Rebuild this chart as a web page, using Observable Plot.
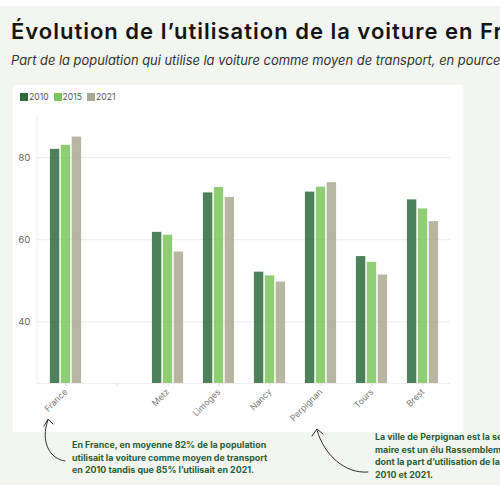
<!DOCTYPE html>
<html><head><meta charset="utf-8">
<script src="https://cdn.jsdelivr.net/npm/d3@7"></script>
<script src="https://cdn.jsdelivr.net/npm/@observablehq/plot@0.6"></script>
<style>
html,body{margin:0;padding:0;width:500px;height:500px;overflow:hidden;background:#fff;font-family:Inter,"DejaVu Sans",sans-serif;}
#page{position:absolute;left:0;top:6px;width:500px;height:479px;background:#f3f5f0;}
#title{position:absolute;left:11px;top:18px;font-size:22px;letter-spacing:1px;line-height:27px;font-weight:600;color:#151515;white-space:nowrap;}
#subtitle{position:absolute;left:11px;top:53px;font-size:12.9px;line-height:15px;font-style:italic;color:#333;white-space:nowrap;}
#card{position:absolute;left:13px;top:85px;width:450px;height:347px;background:#fff;}
#legend{position:absolute;left:20px;top:92px;display:flex;gap:5px;font-size:8.6px;color:#555;line-height:10px;}
#legend span{display:flex;align-items:center;gap:1px;}
#legend i{display:inline-block;width:8px;height:8px;}
#chart{position:absolute;left:13px;top:105px;}
.note{position:absolute;font-size:8.9px;line-height:12.5px;font-weight:700;color:#2d5e3a;white-space:nowrap;}
#arrows{position:absolute;left:0;top:0;pointer-events:none;}
</style></head>
<body>
<div id="page"></div>
<div id="title">Évolution de l’utilisation de la voiture en France</div>
<div id="subtitle">Part de la population qui utilise la voiture comme moyen de transport, en pourcentage</div>
<div id="card"></div>
<div id="legend"></div>
<div id="chart"></div>
<div class="note" style="left:72px;top:439px">En France, en moyenne 82% de la population<br>utilisait la voiture comme moyen de transport<br>en 2010 tandis que 85% l’utilisait en 2021.</div>
<div class="note" style="left:375px;top:431px">La ville de Perpignan est la seule ville dont le<br>maire est un élu Rassemblement National, et<br>dont la part d’utilisation de la voiture a augmenté entre<br>2010 et 2021.</div>
<svg id="arrows" width="500" height="500">
  <g fill="none" stroke="#333" stroke-width="1" stroke-linecap="round">
    <path d="M65,461 C50,459 40,442 48,420"/>
    <path d="M44,426 L48,419 L53,424"/>
    <path d="M368,472 C345,474 324,455 317,430"/>
    <path d="M312,436 L317,429 L323,434"/>
  </g>
</svg>
<script>
const xDomain = ["France", "", "Metz", "Limoges", "Nancy", "Perpignan", "Tours", "Brest"];
const cities = ["France", "Metz", "Limoges", "Nancy", "Perpignan", "Tours", "Brest"];
const years = ["2010", "2015", "2021"];
const v2010 = [82.0, 61.8, 71.4, 52.1, 71.6, 55.9, 69.7];
const v2015 = [83.0, 61.1, 72.7, 51.2, 72.8, 54.5, 67.5];
const v2021 = [85.0, 57.0, 70.3, 49.7, 73.9, 51.4, 64.4];
const yDomain = [25, 90];
const yTicks = [40, 60, 80];
const legendColors = ["#2e6b3f", "#7cc55c", "#a9a993"];

const series = [v2010, v2015, v2021];
const rows = [];
years.forEach((yr, i) => cities.forEach((c, j) => rows.push({city: c, year: yr, value: series[i][j]})));

const legend = document.getElementById("legend");
years.forEach((yr, i) => {
  const s = document.createElement("span");
  s.innerHTML = `<i style="background:${legendColors[i]}"></i>${yr}`;
  legend.appendChild(s);
});

const W = 450, H = 327, mL = 24, mR = 13, mT = 11, mB = 49;
const bw = (W - mL - mR) / xDomain.length;
const barW = 10, barGap = 0.9;

const chart = Plot.plot({
  width: W, height: H,
  marginLeft: mL, marginRight: mR, marginTop: mT, marginBottom: mB,
  style: {fontFamily: "Inter, 'DejaVu Sans', sans-serif", background: "transparent"},
  x: {domain: xDomain, padding: 0},
  y: {domain: yDomain},
  marks: [
    Plot.gridY(yTicks, {stroke: "#ebebeb", strokeOpacity: 1}),
    Plot.ruleY([yDomain[0]], {stroke: "#eeeeee"}),
    ...years.map((yr, i) => Plot.barY(rows.filter(r => r.year === yr), {
      x: "city", y1: yDomain[0], y2: "value",
      fill: legendColors[i], fillOpacity: 0.85,
      dx: (i - 1) * (barW + barGap),
      insetLeft: (bw - barW) / 2, insetRight: (bw - barW) / 2
    })),
    Plot.axisY({ticks: yTicks, tickSize: 0, tickPadding: 7, fontSize: 9.5, color: "#666", label: null}),
    Plot.axisX({text: null, tickSize: 3, stroke: "#dddddd", label: null}),
    Plot.axisX({tickSize: 0, tickPadding: 7, tickRotate: -45, fontSize: 8.6, fill: "#777777", label: null})
  ]
});
const xs = chart.scale("x"), ys = chart.scale("y");
d3.select(chart).append("line")
  .attr("x1", xs.range[0]).attr("x2", xs.range[0])
  .attr("y1", ys.range[0]).attr("y2", ys.range[1])
  .attr("stroke", "#eeeeee");
document.getElementById("chart").appendChild(chart);
</script>
</body></html>
